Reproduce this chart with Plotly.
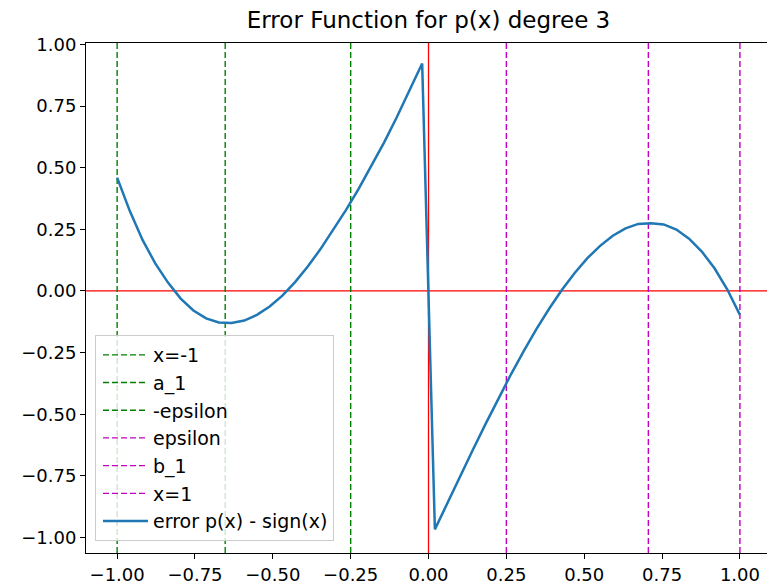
import plotly.graph_objects as go

# ---- data ----
x_vals = [-1.0, -0.9592, -0.9184, -0.8776, -0.8367, -0.7959, -0.7551, -0.7143, -0.6735, -0.6327,
          -0.5918, -0.551, -0.5102, -0.4694, -0.4286, -0.3878, -0.3469, -0.3061, -0.2653, -0.2245,
          -0.1837, -0.1429, -0.102, -0.0612, -0.0204,
          0.0204, 0.0612, 0.102, 0.1429, 0.1837, 0.2245, 0.2653, 0.3061, 0.3469, 0.3878,
          0.4286, 0.4694, 0.5102, 0.551, 0.5918, 0.6327, 0.6735, 0.7143, 0.7551, 0.7959,
          0.8367, 0.8776, 0.9184, 0.9592, 1.0]
err_vals = [0.460, 0.324, 0.207, 0.112, 0.034, -0.031, -0.079, -0.111, -0.128, -0.130,
            -0.120, -0.097, -0.063, -0.019, 0.036, 0.099, 0.170, 0.248, 0.328, 0.414,
            0.505, 0.602, 0.705, 0.812, 0.923,
            -0.967, -0.858, -0.750, -0.643, -0.538, -0.436, -0.337, -0.243, -0.154, -0.071,
            0.005, 0.073, 0.133, 0.183, 0.224, 0.254, 0.272, 0.275, 0.270, 0.249,
            0.212, 0.160, 0.092, 0.007, -0.097]

vline_labels = ["x=-1", "a_1", "-epsilon", "epsilon", "b_1", "x=1"]
vline_x = [-1.0, -0.653, -0.25, 0.25, 0.706, 1.0]
vline_colors = ["#008000", "#008000", "#008000", "#bf00bf", "#bf00bf", "#bf00bf"]

tick_vals = [-1.0, -0.75, -0.5, -0.25, 0.0, 0.25, 0.5, 0.75, 1.0]
tick_text = ["\u22121.00", "\u22120.75", "\u22120.50", "\u22120.25", "0.00", "0.25", "0.50", "0.75", "1.00"]

X_RANGE = [-1.1, 1.087]
Y_RANGE = [-1.063, 1.006]

FONT = "DejaVu Sans"

fig = go.Figure()

# red reference lines (not in legend)
fig.add_trace(go.Scatter(x=[0, 0], y=Y_RANGE, mode="lines", showlegend=False,
                         line=dict(color="#ff0000", width=1.3), hoverinfo="skip"))
fig.add_trace(go.Scatter(x=X_RANGE, y=[0, 0], mode="lines", showlegend=False,
                         line=dict(color="#ff0000", width=1.3), hoverinfo="skip"))

for i, (lab, xv, col) in enumerate(zip(vline_labels, vline_x, vline_colors)):
    fig.add_trace(go.Scatter(x=[xv, xv], y=Y_RANGE, mode="lines", name=lab,
                             legendgroup="g%d" % i,
                             line=dict(color=col, width=1.4, dash="6px,3px")))

fig.add_trace(go.Scatter(x=x_vals, y=err_vals, mode="lines", name="error p(x) - sign(x)",
                         legendgroup="g_err",
                         line=dict(color="#1f77b4", width=2.5)))

fig.update_layout(
    width=767, height=587,
    margin=dict(l=86, r=0, t=43, b=34),
    paper_bgcolor="white", plot_bgcolor="white",
    font=dict(family=FONT, size=18, color="black"),
    title=dict(text="Error Function for p(x) degree 3", font=dict(family=FONT, size=23, color="black"),
               x=0.5587, xref="container", xanchor="center", y=0.966, yanchor="middle"),
    showlegend=True,
    legend=dict(x=0.0132, y=0.4275, xanchor="left", yanchor="top",
                bgcolor="rgba(255,255,255,0.8)", bordercolor="#cccccc", borderwidth=1,
                font=dict(family=FONT, size=19, color="black"),
                tracegroupgap=4, traceorder="normal", indentation=2, itemwidth=45),
)

fig.update_xaxes(range=X_RANGE, showgrid=False, zeroline=False,
                 showline=True, linecolor="black", linewidth=1, mirror=True,
                 ticks="outside", ticklen=5, tickwidth=1, tickcolor="black",
                 tickvals=tick_vals, ticktext=tick_text,
                 tickfont=dict(family=FONT, size=18, color="black"))
fig.update_yaxes(range=Y_RANGE, showgrid=False, zeroline=False,
                 showline=True, linecolor="black", linewidth=1, mirror=False,
                 ticks="outside", ticklen=5, tickwidth=1, tickcolor="black",
                 tickvals=tick_vals, ticktext=tick_text,
                 tickfont=dict(family=FONT, size=18, color="black"))

fig.write_html("out.html")
